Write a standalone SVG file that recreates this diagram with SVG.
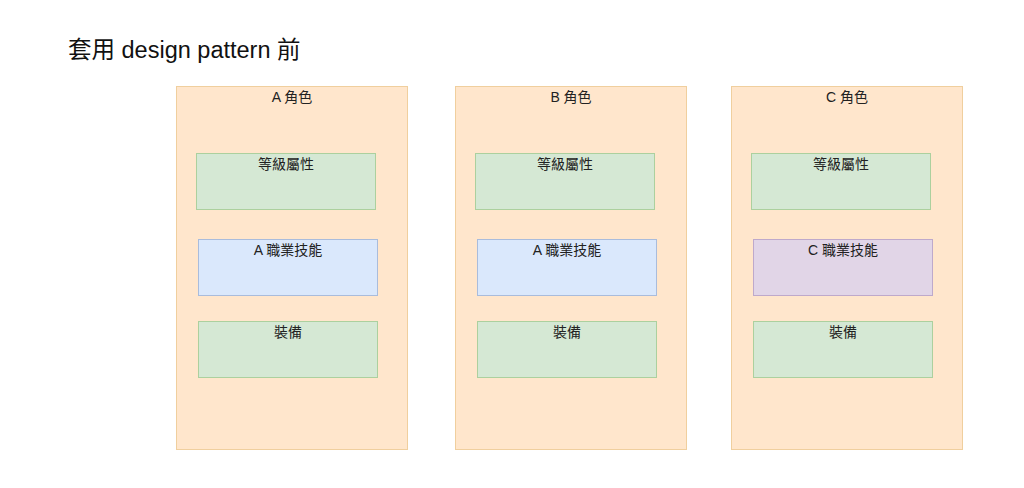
<svg xmlns="http://www.w3.org/2000/svg" width="1024" height="488" viewBox="0 0 1024 488">
<style>
text{font-family:"Liberation Sans","Noto Sans CJK TC",sans-serif;fill:#222;text-anchor:middle;font-size:14px}
.title{font-size:23.5px;text-anchor:start;fill:#111}
.role{fill:#ffe6cc;stroke:#f0cf9e;stroke-width:1}
.green{fill:#d5e8d4;stroke:#acd09e;stroke-width:1}
.blue{fill:#dae8fc;stroke:#a9bcdc;stroke-width:1}
.purple{fill:#e1d5e7;stroke:#bea9cb;stroke-width:1}
</style>
<rect width="1024" height="488" fill="#ffffff"/>
<text class="title" x="68" y="58">套用 design pattern 前</text>
<g id="roleA">
<rect class="role" x="176.5" y="86.5" width="231" height="363"/>
<text x="292" y="102">A 角色</text>
<g id="roleA-attr"><rect class="green" x="196.5" y="153.5" width="179" height="56"/><text x="286" y="169">等級屬性</text></g>
<g id="roleA-skill"><rect class="blue" x="198.5" y="239.5" width="179" height="56"/><text x="288" y="255">A 職業技能</text></g>
<g id="roleA-equip"><rect class="green" x="198.5" y="321.5" width="179" height="56"/><text x="288" y="337">裝備</text></g>
</g>
<g id="roleB">
<rect class="role" x="455.5" y="86.5" width="231" height="363"/>
<text x="571" y="102">B 角色</text>
<g id="roleB-attr"><rect class="green" x="475.5" y="153.5" width="179" height="56"/><text x="565" y="169">等級屬性</text></g>
<g id="roleB-skill"><rect class="blue" x="477.5" y="239.5" width="179" height="56"/><text x="567" y="255">A 職業技能</text></g>
<g id="roleB-equip"><rect class="green" x="477.5" y="321.5" width="179" height="56"/><text x="567" y="337">裝備</text></g>
</g>
<g id="roleC">
<rect class="role" x="731.5" y="86.5" width="231" height="363"/>
<text x="847" y="102">C 角色</text>
<g id="roleC-attr"><rect class="green" x="751.5" y="153.5" width="179" height="56"/><text x="841" y="169">等級屬性</text></g>
<g id="roleC-skill"><rect class="purple" x="753.5" y="239.5" width="179" height="56"/><text x="843" y="255">C 職業技能</text></g>
<g id="roleC-equip"><rect class="green" x="753.5" y="321.5" width="179" height="56"/><text x="843" y="337">裝備</text></g>
</g>
<g id="connectors"></g>
</svg>
